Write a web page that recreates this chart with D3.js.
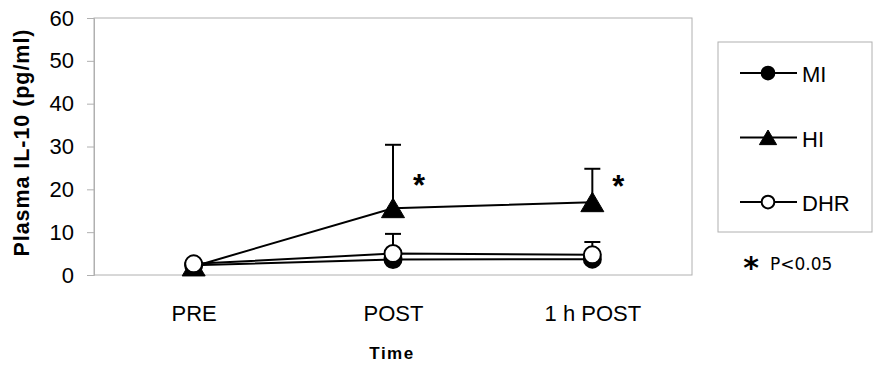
<!DOCTYPE html>
<html><head><meta charset="utf-8">
<script src="https://cdn.jsdelivr.net/npm/d3@7"></script>
<style>body{margin:0;background:#fff}svg{display:block}</style>
</head><body>
<svg id="c" width="884" height="370"></svg>
<script>
const categories = ["PRE", "POST", "1 h POST"];
const yTicks = [0, 10, 20, 30, 40, 50, 60];
const seriesNames = ["MI", "HI", "DHR"];
const miValues = [2.3, 3.6, 3.7];
const miErr = [0, 0, 0];
const hiValues = [2.0, 15.6, 17.0];
const hiErr = [0, 14.8, 7.8];
const dhrValues = [2.6, 5.0, 4.7];
const dhrErr = [0, 4.6, 3.0];
const sigStarLevel = [null, 22.7, 22.3];

const svg = d3.select("#c");
const font = "'Liberation Sans', Arial, sans-serif";
const L = 94, R = 692, T = 18, B = 275;
const x = d3.scalePoint().domain(categories).range([L, R]).padding(0.5);
const y = d3.scaleLinear().domain([0, 60]).range([B, T]);

// plot frame
svg.append("rect").attr("x", L).attr("y", T).attr("width", R - L).attr("height", B - T)
  .attr("fill", "none").attr("stroke", "#b0b0b0").attr("stroke-width", 1);

// y axis
const ya = svg.append("g").attr("transform", `translate(${L},0)`)
  .call(d3.axisLeft(y).tickValues(yTicks).tickSize(7).tickPadding(13).tickFormat(d3.format("d")));
ya.select(".domain").attr("stroke", "#b0b0b0");
ya.selectAll(".tick line").attr("stroke", "#b0b0b0");
ya.selectAll("text").attr("font-family", font).attr("font-size", 22).attr("fill", "#000");

// x axis labels
const xa = svg.append("g").attr("transform", `translate(0,${B})`)
  .call(d3.axisBottom(x).tickSize(0).tickPadding(30));
xa.select(".domain").remove();
xa.selectAll("text").attr("font-family", font).attr("font-size", 22).attr("fill", "#000");

// titles
svg.append("text").attr("x", 392).attr("y", 359).attr("text-anchor", "middle")
  .attr("font-family", font).attr("font-weight", "bold").attr("font-size", 17)
  .attr("letter-spacing", 1.5).text("Time");
svg.append("text").attr("transform", `translate(29,143) rotate(-90)`).attr("text-anchor", "middle")
  .attr("font-family", font).attr("font-weight", "bold").attr("font-size", 21.5)
  .attr("textLength", 227).attr("lengthAdjust", "spacing").text("Plasma IL-10 (pg/ml)");

const series = [
  {name: "MI", values: miValues, err: miErr, marker: "circle", fill: "#000"},
  {name: "HI", values: hiValues, err: hiErr, marker: "triangle", fill: "#000"},
  {name: "DHR", values: dhrValues, err: dhrErr, marker: "circle", fill: "#fff"}
];

function drawMarker(g, type, cx, cy, fill, s) {
  if (type === "circle") {
    g.append("circle").attr("cx", cx).attr("cy", cy).attr("r", 8.5 * s)
      .attr("fill", fill).attr("stroke", "#000").attr("stroke-width", 2);
  } else {
    const hw = 11.5 * s, up = 10 * s, dn = 9.5 * s;
    g.append("path").attr("d", `M${cx},${cy - up}L${cx + hw},${cy + dn}L${cx - hw},${cy + dn}Z`)
      .attr("fill", fill).attr("stroke", "#000").attr("stroke-width", 1);
  }
}

// error bars
series.forEach(s => {
  s.values.forEach((v, i) => {
    if (s.err[i] > 0) {
      const cx = x(categories[i]);
      svg.append("line").attr("x1", cx).attr("x2", cx).attr("y1", y(v)).attr("y2", y(v + s.err[i]))
        .attr("stroke", "#000").attr("stroke-width", 2);
      svg.append("line").attr("x1", cx - 8).attr("x2", cx + 8).attr("y1", y(v + s.err[i])).attr("y2", y(v + s.err[i]))
        .attr("stroke", "#000").attr("stroke-width", 2);
    }
  });
});

// lines
const line = d3.line().x((d, i) => x(categories[i])).y(d => y(d));
series.forEach(s => {
  svg.append("path").datum(s.values).attr("d", line).attr("fill", "none")
    .attr("stroke", "#000").attr("stroke-width", 2);
});
// markers
series.forEach(s => {
  const g = svg.append("g");
  s.values.forEach((v, i) => drawMarker(g, s.marker, x(categories[i]), y(v), s.fill, 1));
});

// significance stars
sigStarLevel.forEach((lv, i) => {
  if (lv == null) return;
  svg.append("text").attr("x", x(categories[i]) + 26).attr("y", y(lv) + 18)
    .attr("text-anchor", "middle").attr("font-family", font).attr("font-weight", "bold")
    .attr("font-size", 31).text("*");
});

// legend
svg.append("rect").attr("x", 718).attr("y", 42).attr("width", 154).attr("height", 190)
  .attr("fill", "none").attr("stroke", "#b0b0b0").attr("stroke-width", 1);
const ly = d3.scalePoint().domain(seriesNames).range([73, 202]);
series.forEach(s => {
  const yy = ly(s.name);
  svg.append("line").attr("x1", 740).attr("x2", 797).attr("y1", yy).attr("y2", yy)
    .attr("stroke", "#000").attr("stroke-width", 2);
  drawMarker(svg, s.marker, 768, yy, s.fill, 0.75);
  svg.append("text").attr("x", 802).attr("y", yy + 9).attr("font-family", font)
    .attr("font-size", 22).text(s.name);
});
svg.append("text").attr("x", 751).attr("y", 278).attr("font-family", "'DejaVu Sans', Verdana, sans-serif")
  .attr("font-weight", "bold").attr("font-size", 30).attr("text-anchor", "middle").text("*");
svg.append("text").attr("x", 770).attr("y", 270).attr("font-family", "'DejaVu Sans', Verdana, sans-serif")
  .attr("font-size", 17).text("P<0.05");
</script>
</body></html>
